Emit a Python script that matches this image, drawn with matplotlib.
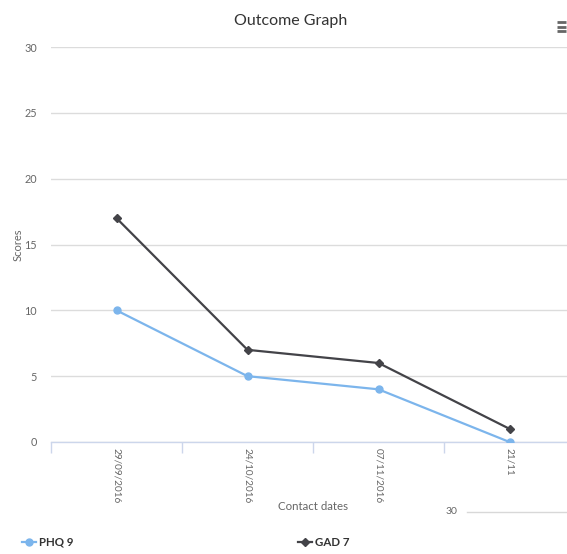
import matplotlib.pyplot as plt
from matplotlib.lines import Line2D

# Outcome scores per contact date
dates = ['29/09/2016', '24/10/2016', '07/11/2016', '21/11']
phq9 = [10, 5, 4, 0]
gad7 = [17, 7, 6, 1]
y_ticks = [0, 5, 10, 15, 20, 25, 30]

plt.rcParams['font.family'] = ['Lato', 'DejaVu Sans']

W, H = 567, 554
fig = plt.figure(figsize=(W / 100, H / 100), dpi=100)

# plot area runs off the right edge of the figure
left, right, top, bottom = 51, 575, 47, 442
ax = fig.add_axes([left / W, 1 - bottom / H, (right - left) / W, (bottom - top) / H])

x = range(len(dates))
ax.plot(x, phq9, color='#7cb5ec', lw=1.6, marker='o', ms=5, zorder=3)
ax.plot(x, gad7, color='#434348', lw=1.6, marker='D', ms=4, zorder=3)

ax.set_xlim(-0.5, len(dates) - 0.5)
ax.set_ylim(0, 30)
ax.set_yticks(y_ticks)
ax.grid(axis='y', color='#dcdcdc', lw=1)
ax.set_axisbelow(True)

for s in ['top', 'right', 'left']:
    ax.spines[s].set_visible(False)
ax.spines['bottom'].set_color('#ccd6eb')
ax.spines['bottom'].set_linewidth(1)

# category boundary ticks on the x axis
ax.set_xticks([i - 0.5 for i in range(len(dates))], minor=True)
ax.set_xticks(list(x))
ax.set_xticklabels(dates, rotation=-90, fontsize=7.2, color='#666666')
ax.tick_params(axis='x', which='major', length=0, pad=4)
ax.tick_params(axis='x', which='minor', length=8, color='#ccd6eb', width=1)
ax.tick_params(axis='y', length=0, labelsize=7.8, labelcolor='#666666', pad=10)
for lbl in ax.get_yticklabels():
    lbl.set_horizontalalignment('right')

fig.text(18 / W, 1 - 245 / H, 'Scores', rotation=90, ha='center', va='center',
         fontsize=8, color='#666666')
fig.text(313 / W, 1 - 507 / H, 'Contact dates', ha='center', va='center',
         fontsize=8.3, color='#666666')
fig.text(291 / W, 1 - 21 / H, 'Outcome Graph', ha='center', va='center',
         fontsize=11.5, color='#333333')

# leftover axis fragment at the bottom right
fig.text(451 / W, 1 - 512 / H, '30', ha='center', va='center', fontsize=7.5,
         color='#666666')
fig.add_artist(Line2D([467 / W, 1.0], [1 - 512 / H] * 2, color='#d8d8d8', lw=1))

# menu icon
for yy in [22, 26.5, 31]:
    fig.add_artist(Line2D([557 / W, 566 / W], [1 - yy / H] * 2, color='#666666',
                          lw=2, solid_capstyle='butt'))

# legend
ly = 1 - 542 / H
fig.add_artist(Line2D([22 / W, 29 / W, 36 / W], [ly] * 3, color='#7cb5ec', lw=1.6,
                      marker='o', ms=5, markevery=[1]))
fig.text(39 / W, ly, 'PHQ 9', ha='left', va='center', fontsize=8.3,
         fontweight='bold', color='#333333')
fig.add_artist(Line2D([298 / W, 305 / W, 312 / W], [ly] * 3, color='#434348', lw=1.6,
                      marker='D', ms=4, markevery=[1]))
fig.text(315 / W, ly, 'GAD 7', ha='left', va='center', fontsize=8.3,
         fontweight='bold', color='#333333')

fig.savefig('out.png', dpi=100)
